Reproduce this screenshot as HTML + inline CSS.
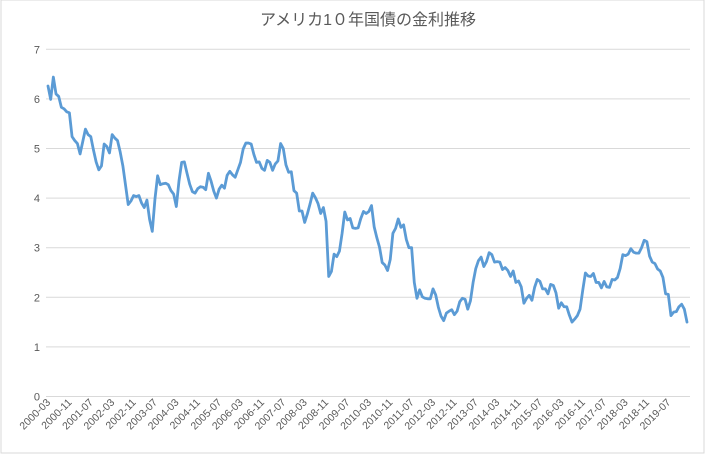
<!DOCTYPE html>
<html><head><meta charset="utf-8">
<style>
html,body{margin:0;padding:0;background:#fff;}
svg{display:block;font-family:"Liberation Sans","Noto Sans CJK JP",sans-serif;}
</style></head>
<body>
<svg id="chart" width="706" height="454">
<rect x="1" y="0" width="703" height="453" fill="#fff" stroke="#d9d9d9"/>
<text x="368" y="25" text-anchor="middle" font-size="16" fill="#595959">アメリカ1０年国債の金利推移</text>
<g id="grid"></g><g id="yax"></g><g id="xax"></g><g id="series"></g>
</svg>
<script>
const startYear = 2000, startMonth = 3;
const yTicks = [0,1,2,3,4,5,6,7];
const yields = [
6.26,5.99,6.44,6.10,6.05,5.83,5.80,5.74,5.72,5.24,
5.16,5.10,4.89,5.14,5.39,5.28,5.24,4.97,4.73,4.57,4.65,5.09,
5.04,4.91,5.28,5.21,5.16,4.93,4.65,4.26,3.87,3.94,4.05,4.03,
4.05,3.90,3.81,3.96,3.57,3.33,3.98,4.45,4.27,4.29,4.30,4.27,
4.15,4.08,3.83,4.35,4.72,4.73,4.50,4.28,4.13,4.10,4.19,4.23,
4.22,4.17,4.50,4.34,4.14,4.00,4.18,4.26,4.20,4.46,4.54,4.47,
4.42,4.57,4.72,4.99,5.11,5.11,5.09,4.88,4.72,4.73,4.60,4.56,
4.76,4.72,4.56,4.69,4.75,5.10,5.00,4.67,4.52,4.53,4.15,4.10,
3.74,3.74,3.51,3.68,3.88,4.10,4.01,3.89,3.69,3.81,3.53,2.42,
2.52,2.87,2.82,2.93,3.29,3.72,3.56,3.59,3.40,3.39,3.40,3.59,
3.73,3.69,3.73,3.85,3.42,3.20,3.01,2.70,2.65,2.54,2.76,3.29,
3.39,3.58,3.41,3.46,3.17,3.00,3.00,2.30,1.98,2.15,2.01,1.98,
1.97,1.97,2.17,2.05,1.80,1.62,1.53,1.68,1.72,1.75,1.65,1.72,
1.91,1.98,1.96,1.76,1.93,2.30,2.58,2.74,2.81,2.62,2.72,2.90,
2.86,2.71,2.72,2.71,2.56,2.60,2.54,2.42,2.53,2.30,2.33,2.21,
1.88,1.98,2.04,1.94,2.20,2.36,2.32,2.17,2.17,2.07,2.26,2.24,
2.09,1.78,1.89,1.81,1.81,1.64,1.50,1.56,1.63,1.76,2.14,2.49,
2.43,2.42,2.48,2.30,2.30,2.19,2.32,2.21,2.20,2.36,2.35,2.40,
2.58,2.86,2.84,2.87,2.98,2.91,2.89,2.89,3.00,3.15,3.12,2.83,
2.71,2.68,2.57,2.53,2.40,2.07,2.06,1.63,1.70,1.71,1.81,1.86,
1.76,1.50];
const labelEvery = 8;

const NS="http://www.w3.org/2000/svg";
const X0=48, X1=687, Y0=396.5, YU=49.6;
const xs=i=>X0+(X1-X0)*i/(yields.length-1);
const ys=v=>Y0-v*YU;
function mk(tag,attrs,parent){const e=document.createElementNS(NS,tag);for(const k in attrs)e.setAttribute(k,attrs[k]);parent.appendChild(e);return e;}
const grid=document.getElementById('grid'),yax=document.getElementById('yax'),xax=document.getElementById('xax'),ser=document.getElementById('series');
yTicks.forEach(t=>{
  const l=mk('line',{x1:46,x2:690,y1:ys(t),y2:ys(t),stroke:'#d9d9d9','stroke-width':1},grid);
  
  
  const tx=mk('text',{x:40,y:ys(t)+4,'text-anchor':'end','font-size':11,fill:'#595959'},yax);
  tx.textContent=String(t);
  
  
});
for(let i=0;i<yields.length;i+=labelEvery){
  const m=startMonth-1+i, yr=startYear+Math.floor(m/12), mo=m%12+1;
  const lab=yr+'-'+(mo<10?'0':'')+mo;
  const x=xs(i)+3, y=403;
  const tx=mk('text',{x:x,y:y,'text-anchor':'end','font-size':10.5,fill:'#595959',transform:'rotate(-45 '+x+' '+y+')'},xax);
  tx.textContent=lab;
  
  
}
const pts=yields.map((v,i)=>xs(i).toFixed(2)+','+ys(v).toFixed(2)).join(' ');
const pl=mk('polyline',{points:pts,fill:'none',stroke:'#5b9bd5','stroke-width':2.8,'stroke-linejoin':'round','stroke-linecap':'round'},ser);


</script>
</body></html>
